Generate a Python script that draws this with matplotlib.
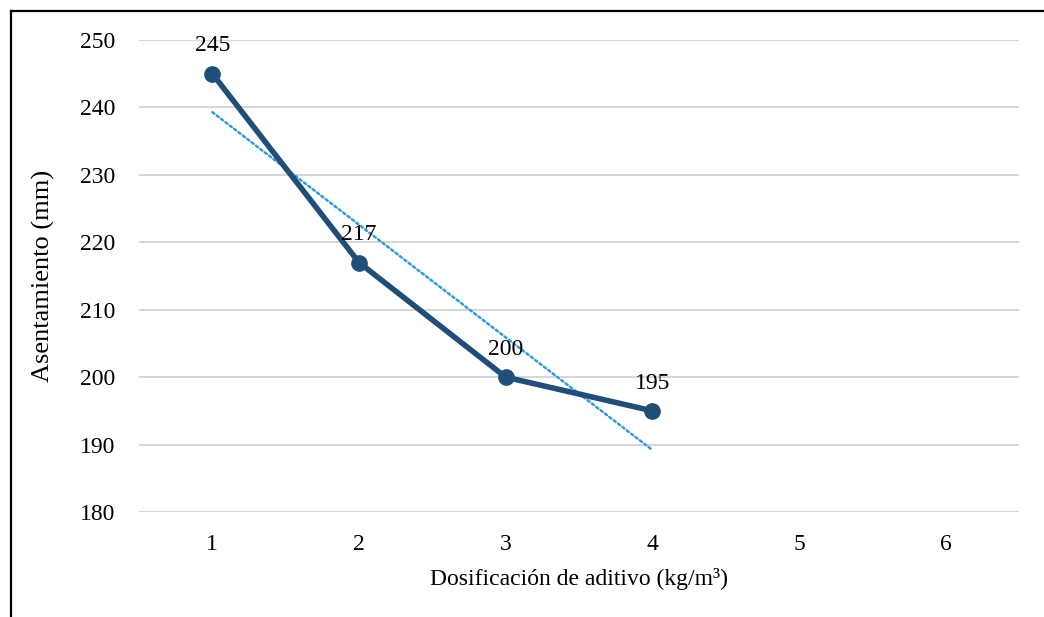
import numpy as np
import matplotlib
matplotlib.use("Agg")
import matplotlib.pyplot as plt
from matplotlib.lines import Line2D

dosificacion = [1, 2, 3, 4]
asentamiento = [245, 217, 200, 195]
x_ticks = [1, 2, 3, 4, 5, 6]
y_ticks = [180, 190, 200, 210, 220, 230, 240, 250]

plt.rcParams['font.family'] = ['Liberation Serif', 'DejaVu Serif']

fig = plt.figure(figsize=(10.44, 6.17), dpi=100)
ax = fig.add_axes([139 / 1044, 1 - 512 / 617, 880 / 1044, 472 / 617])

# outer chart frame (left and top edges visible)
W, H = 1044, 617
fig.add_artist(Line2D([10.5 / W, 10.5 / W], [0, 1 - 10.5 / H], color='black',
                      lw=1.6, transform=fig.transFigure))
fig.add_artist(Line2D([10.5 / W, 1], [1 - 10.5 / H, 1 - 10.5 / H], color='black',
                      lw=1.6, transform=fig.transFigure))

ax.set_xlim(0.5, 6.5)
ax.set_ylim(180, 250)
ax.set_xticks(x_ticks)
ax.set_yticks(y_ticks)
ax.tick_params(length=0, labelsize=17)
ax.tick_params(axis='x', pad=16)
ax.tick_params(axis='y', pad=17)
for s in ax.spines.values():
    s.set_visible(False)
ax.grid(axis='y', color='#D6D6D6', lw=1.4)
ax.set_axisbelow(True)

# linear trendline
coef = np.polyfit(dosificacion, asentamiento, 1)
tx = np.array([dosificacion[0], dosificacion[-1]])
ax.plot(tx, np.polyval(coef, tx), color='#2E9BE0', lw=1.8,
        linestyle=(0, (1, 1.2)), dash_capstyle='round', zorder=2)

ax.plot(dosificacion, asentamiento, color='#1F4E79', lw=4, marker='o',
        markersize=11, zorder=3, solid_capstyle='round')

for x, y in zip(dosificacion, asentamiento):
    ax.annotate(str(y), (x, y), xytext=(0, 20), textcoords='offset points',
                ha='center', va='center', fontsize=17)

ax.set_xlabel('Dosificación de aditivo (kg/m³)', fontsize=17, labelpad=9)
ax.set_ylabel('Asentamiento (mm)', fontsize=19, labelpad=18)

fig.savefig('out.png', dpi=100)
